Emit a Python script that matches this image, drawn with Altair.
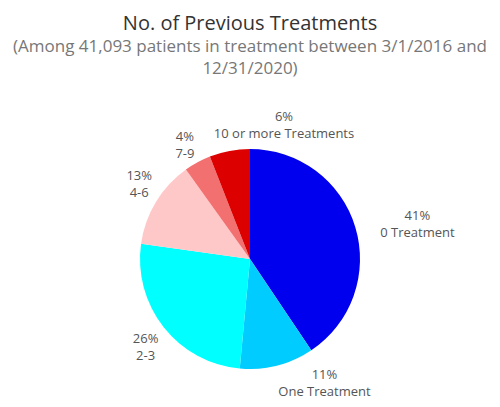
import altair as alt
import pandas as pd

categories = ["0 Treatment", "One Treatment", "2-3", "4-6", "7-9", "10 or more Treatments"]
shares = [41, 11, 26, 13, 4, 6]
colors = ["#0000EE", "#00CCFF", "#00FFFF", "#FFC8C8", "#F27070", "#DD0000"]

df = pd.DataFrame({"cat": categories, "pct": shares, "order": range(len(categories))})
df["label"] = [[f"{p}%", c] for p, c in zip(shares, categories)]

pie = (
    alt.Chart(df)
    .mark_arc(outerRadius=110)
    .encode(
        theta=alt.Theta("pct:Q", stack=True),
        order=alt.Order("order:Q"),
        color=alt.Color("cat:N", scale=alt.Scale(domain=categories, range=colors), legend=None),
    )
)

# mid angle of each slice, computed before any filtering
lab_base = (
    alt.Chart(df)
    .transform_window(cum="sum(pct)", sort=[alt.SortField("order")])
    .transform_joinaggregate(total="sum(pct)")
    .transform_calculate(ang="(datum.cum - datum.pct / 2) / datum.total * 2 * PI")
    .encode(theta=alt.Theta("ang:Q", scale=None), text="label")
)

txt = dict(font="Open Sans", fontSize=13, color="#555555", lineHeight=17)
lab_23 = lab_base.mark_text(radius=133, dy=-2, **txt).transform_filter(alt.datum.cat == "2-3")
lab_46 = lab_base.mark_text(radius=133, dx=3, dy=-14, **txt).transform_filter(alt.datum.cat == "4-6")
lab_79 = lab_base.mark_text(radius=130, dx=-3, dy=-8, **txt).transform_filter(alt.datum.cat == "7-9")
lab_big = lab_base.mark_text(radius=175, dy=8, **txt).transform_filter(alt.datum.cat == "0 Treatment")
lab_one = lab_base.mark_text(radius=140, dx=40, dy=-20, **txt).transform_filter(
    alt.datum.cat == "One Treatment"
)
lab_ten = lab_base.mark_text(radius=140, dx=60, dy=-4, **txt).transform_filter(
    alt.datum.cat == "10 or more Treatments"
)

chart = (
    alt.layer(pie, lab_23, lab_46, lab_79, lab_big, lab_one, lab_ten)
    .properties(
        width=484,
        height=270,
        padding={"top": 6, "left": 0, "right": 0, "bottom": 0},
        title=alt.TitleParams(
            "No. of Previous Treatments",
            subtitle=["(Among 41,093 patients in treatment between 3/1/2016 and", "12/31/2020)"],
            anchor="middle",
            font="Open Sans",
            fontSize=20,
            fontWeight=500,
            color="#333333",
            subtitleFont="Open Sans",
            subtitleFontSize=17,
            subtitleColor="#777777",
            subtitleLineHeight=22,
            subtitlePadding=5,
            offset=34,
        ),
    )
    .configure_view(stroke=None)
)

chart.save("out.html", embed_options={"renderer": "svg", "actions": False})
